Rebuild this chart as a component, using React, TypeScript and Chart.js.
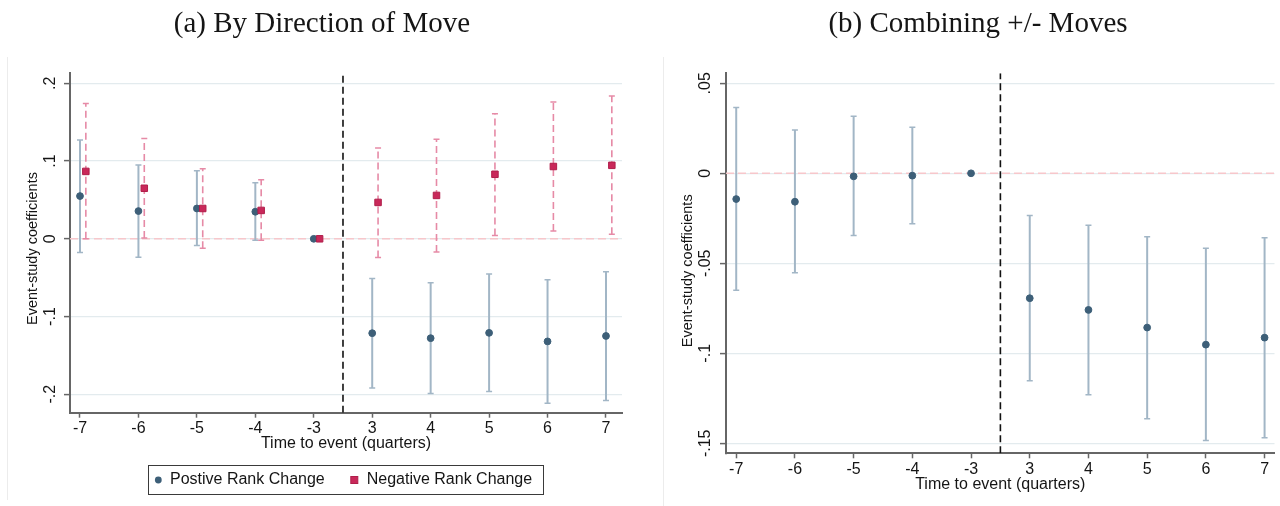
import React, { useEffect, useRef } from "react";
import { Chart, registerables } from "chart.js";
Chart.register(...registerables);

// ---------- data ----------
const xLabels = ["-7", "-6", "-5", "-4", "-3", "3", "4", "5", "6", "7"];
const xPositions = [0, 1, 2, 3, 4, 5, 6, 7, 8, 9];
const eventLinePos = 4.5;
const negOffset = 0.1;

// Panel (a): positive rank change
const posCoef = [0.055, 0.0357, 0.039, 0.0348, 0, -0.1214, -0.1278, -0.121, -0.132, -0.125];
const posLo = [-0.0175, -0.0236, -0.0086, -0.002, null, -0.192, -0.199, -0.1964, -0.2115, -0.208];
const posHi = [0.127, 0.095, 0.0875, 0.072, null, -0.051, -0.0566, -0.0454, -0.0527, -0.0425];
// Panel (a): negative rank change
const negCoef = [0.0867, 0.065, 0.039, 0.0365, 0, 0.0468, 0.0558, 0.083, 0.093, 0.0945];
const negLo = [0.0, 0.001, -0.012, -0.002, null, -0.024, -0.017, 0.0043, 0.0099, 0.006];
const negHi = [0.174, 0.129, 0.09, 0.076, null, 0.1167, 0.128, 0.161, 0.176, 0.1837];
// Panel (b): combined
const allCoef = [-0.0143, -0.0158, -0.0017, -0.0013, 0, -0.0694, -0.0759, -0.0857, -0.0952, -0.0913];
const allLo = [-0.065, -0.0552, -0.0346, -0.028, null, -0.1152, -0.123, -0.1363, -0.1485, -0.1469];
const allHi = [0.0365, 0.024, 0.0317, 0.0256, null, -0.0235, -0.0289, -0.0352, -0.0417, -0.0358];

const yTicksA = [-0.2, -0.1, 0, 0.1, 0.2];
const yTickLabelsA = ["-.2", "-.1", "0", ".1", ".2"];
const yTicksB = [-0.15, -0.1, -0.05, 0, 0.05];
const yTickLabelsB = ["-.15", "-.1", "-.05", "0", ".05"];

const legendNames = ["Postive Rank Change", "Negative Rank Change"];
const xTitle = "Time to event (quarters)";
const yTitle = "Event-study coefficients";
const panelTitles = ["(a) By Direction of Move", "(b) Combining +/- Moves"];

// ---------- styles ----------
const SANS = '"Liberation Sans", Arial, Helvetica, sans-serif';
const SERIF = '"Liberation Serif", "Times New Roman", serif';
const BLUE = "#3d5f78";
const BLUE_CI = "#a2b6c6";
const RED = "#c9285a";
const RED_DARK = "#b01e4a";
const RED_CI = "#e68aa6";
const PINK_ZERO = "#f7c7cb";
const AXIS = "#666666";
const GRID = "#e3ebee";
const TEXT = "#151515";

function pts(values: number[], offset: number) {
  return values.map((v, i) => ({ x: xPositions[i] + offset, y: v }));
}
function ciPts(lo: (number | null)[], hi: (number | null)[], offset: number) {
  const out: any[] = [];
  lo.forEach((l, i) => {
    const h = hi[i];
    if (l == null || h == null) return;
    const x = xPositions[i] + offset;
    out.push({ x, y: l }, { x, y: h }, { x, y: null });
  });
  return out;
}
function pointDs(data: any[], color: string, border: string, style: string, radius: number) {
  return {
    data,
    showLine: false,
    pointStyle: style,
    pointRadius: radius,
    pointBackgroundColor: color,
    pointBorderColor: border,
    pointBorderWidth: 1,
  };
}
function ciDs(data: any[], color: string, dash: number[], width: number) {
  return {
    data,
    showLine: true,
    borderColor: color,
    borderWidth: width,
    borderDash: dash,
    spanGaps: false,
    pointStyle: "line",
    pointRadius: 3,
    pointBorderColor: color,
    pointBorderWidth: 1.5,
    pointBackgroundColor: color,
  };
}
function refLine(data: any[], color: string, dash: number[], width: number) {
  return { data, showLine: true, borderColor: color, borderWidth: width, borderDash: dash, pointRadius: 0 };
}

type Spec = {
  width: number;
  height: number;
  area: { left: number; top: number; right: number; bottom: number };
  xMin: number;
  xMax: number;
  yMin: number;
  yMax: number;
  yTicks: number[];
  yTickLabels: string[];
  datasets: any[];
  yTickLabelX: number;
  yTitleX: number;
  yTitleY: number;
  xTickLabelY: number;
  xTitleY: number;
  legend: boolean;
};

function buildChart(canvas: HTMLCanvasElement, p: Spec) {
  const decor = {
    id: "stataDecor",
    afterDraw(chart: any) {
      const ctx = chart.ctx as CanvasRenderingContext2D;
      const xs = chart.scales.x;
      const ys = chart.scales.y;
      const ca = chart.chartArea;
      ctx.save();
      ctx.fillStyle = TEXT;
      ctx.textAlign = "center";
      ctx.textBaseline = "middle";
      ctx.font = `16px ${SANS}`;
      xs.ticks.forEach((t: any) => {
        ctx.fillText(xLabels[Math.round(t.value)], xs.getPixelForValue(t.value), p.xTickLabelY);
      });
      ys.ticks.forEach((t: any) => {
        const lab = p.yTickLabels[p.yTicks.indexOf(t.value)];
        ctx.save();
        ctx.translate(p.yTickLabelX, ys.getPixelForValue(t.value));
        ctx.rotate(-Math.PI / 2);
        ctx.fillText(lab, 0, 0);
        ctx.restore();
      });
      ctx.fillText(xTitle, (ca.left + ca.right) / 2, p.xTitleY);
      ctx.save();
      ctx.translate(p.yTitleX, p.yTitleY);
      ctx.rotate(-Math.PI / 2);
      ctx.font = `14.5px ${SANS}`;
      ctx.fillText(yTitle, 0, 0);
      ctx.restore();

      if (p.legend) {
        ctx.strokeStyle = "#3a3a3a";
        ctx.lineWidth = 1;
        ctx.strokeRect(148.5, 465.5, 395, 29);
        const my = 480;
        ctx.fillStyle = BLUE;
        ctx.beginPath();
        ctx.arc(158.3, my, 3.4, 0, Math.PI * 2);
        ctx.fill();
        ctx.fillStyle = RED;
        ctx.fillRect(354.3 - 3.5, my - 3.5, 7, 7);
        ctx.strokeStyle = RED_DARK;
        ctx.strokeRect(354.3 - 3.5, my - 3.5, 7, 7);
        ctx.fillStyle = TEXT;
        ctx.font = `16px ${SANS}`;
        ctx.textAlign = "left";
        ctx.fillText(legendNames[0], 170, my);
        ctx.fillText(legendNames[1], 366.7, my);
      }
      ctx.restore();
    },
  };

  return new Chart(canvas, {
    type: "scatter",
    data: { datasets: p.datasets },
    options: {
      animation: false,
      responsive: false,
      devicePixelRatio: 1,
      events: [],
      layout: { padding: { left: 0, top: p.area.top, right: p.width - p.area.right, bottom: 0 } },
      plugins: { legend: { display: false }, tooltip: { enabled: false }, title: { display: false } },
      scales: {
        x: {
          type: "linear",
          min: p.xMin,
          max: p.xMax,
          afterBuildTicks: (s: any) => {
            s.ticks = xPositions.map((v) => ({ value: v }));
          },
          afterFit: (s: any) => {
            s.height = p.height - p.area.bottom;
          },
          ticks: { display: false },
          grid: {
            display: true,
            drawOnChartArea: false,
            drawTicks: true,
            tickLength: 5,
            tickColor: AXIS,
            tickWidth: 1.5,
          },
          border: { display: true, color: AXIS, width: 2 },
        },
        y: {
          type: "linear",
          min: p.yMin,
          max: p.yMax,
          afterBuildTicks: (s: any) => {
            s.ticks = p.yTicks.map((v) => ({ value: v }));
          },
          afterFit: (s: any) => {
            s.width = p.area.left;
          },
          ticks: { display: false },
          grid: {
            display: true,
            color: GRID,
            lineWidth: 1.2,
            drawTicks: true,
            tickLength: 6,
            tickColor: AXIS,
            tickWidth: 1.5,
          },
          border: { display: true, color: AXIS, width: 2 },
        },
      },
    } as any,
    plugins: [decor],
  } as any);
}

const specA: Spec = {
  width: 650,
  height: 506,
  area: { left: 70, top: 73.3, right: 622, bottom: 412.7 },
  xMin: -0.171,
  xMax: 9.274,
  yMin: -0.2237,
  yMax: 0.2129,
  yTicks: yTicksA,
  yTickLabels: yTickLabelsA,
  datasets: [
    pointDs(pts(negCoef, negOffset), RED, RED_DARK, "rect", 4.6),
    pointDs(pts(posCoef, 0), BLUE, BLUE, "circle", 3.4),
    ciDs(ciPts(negLo, negHi, negOffset), RED_CI, [7, 4], 1.6),
    ciDs(ciPts(posLo, posHi, 0), BLUE_CI, [], 2),
    refLine([{ x: eventLinePos, y: -0.2237 }, { x: eventLinePos, y: 0.2129 }], "#111111", [7, 4], 1.6),
    refLine([{ x: -0.171, y: 0 }, { x: 9.274, y: 0 }], PINK_ZERO, [8, 4], 1.6),
  ],
  yTickLabelX: 50.8,
  yTitleX: 33,
  yTitleY: 248.5,
  xTickLabelY: 428.5,
  xTitleY: 444,
  legend: true,
};

const specB: Spec = {
  width: 630,
  height: 506,
  area: { left: 76, top: 73.3, right: 628, bottom: 453.3 },
  xMin: -0.174,
  xMax: 9.169,
  yMin: -0.15556,
  yMax: 0.05556,
  yTicks: yTicksB,
  yTickLabels: yTickLabelsB,
  datasets: [
    pointDs(pts(allCoef, 0), BLUE, BLUE, "circle", 3.4),
    ciDs(ciPts(allLo, allHi, 0), BLUE_CI, [], 2),
    refLine([{ x: eventLinePos, y: -0.15556 }, { x: eventLinePos, y: 0.05556 }], "#111111", [7, 4], 1.6),
    refLine([{ x: -0.174, y: 0 }, { x: 9.169, y: 0 }], PINK_ZERO, [8, 4], 1.6),
  ],
  yTickLabelX: 56,
  yTitleX: 38,
  yTitleY: 270.8,
  xTickLabelY: 469.4,
  xTitleY: 484.5,
  legend: false,
};

function Panel({ spec, left }: { spec: Spec; left: number }) {
  const ref = useRef<HTMLCanvasElement | null>(null);
  useEffect(() => {
    if (!ref.current) return;
    const c = buildChart(ref.current, spec);
    return () => c.destroy();
  }, [spec]);
  return (
    <canvas
      ref={ref}
      width={spec.width}
      height={spec.height}
      style={{ position: "absolute", left, top: 0, width: spec.width, height: spec.height, display: "block" }}
    />
  );
}

export default function App() {
  const titleStyle: React.CSSProperties = {
    position: "absolute",
    top: 8,
    width: 644,
    textAlign: "center",
    fontFamily: SERIF,
    fontSize: 29,
    lineHeight: "29px",
    color: TEXT,
    whiteSpace: "nowrap",
  };
  return (
    <div
      style={{
        position: "absolute",
        left: 0,
        top: 0,
        width: 1280,
        height: 506,
        background: "#ffffff",
        overflow: "hidden",
      }}
    >
      <div style={{ position: "absolute", left: 7, top: 57, width: 1, height: 443, background: "#ececec" }} />
      <div style={{ position: "absolute", left: 663, top: 57, width: 1, height: 449, background: "#ececec" }} />
      <Panel spec={specA} left={0} />
      <Panel spec={specB} left={650} />
      <div style={{ ...titleStyle, left: 0 }}>{panelTitles[0]}</div>
      <div style={{ ...titleStyle, left: 656 }}>{panelTitles[1]}</div>
    </div>
  );
}
